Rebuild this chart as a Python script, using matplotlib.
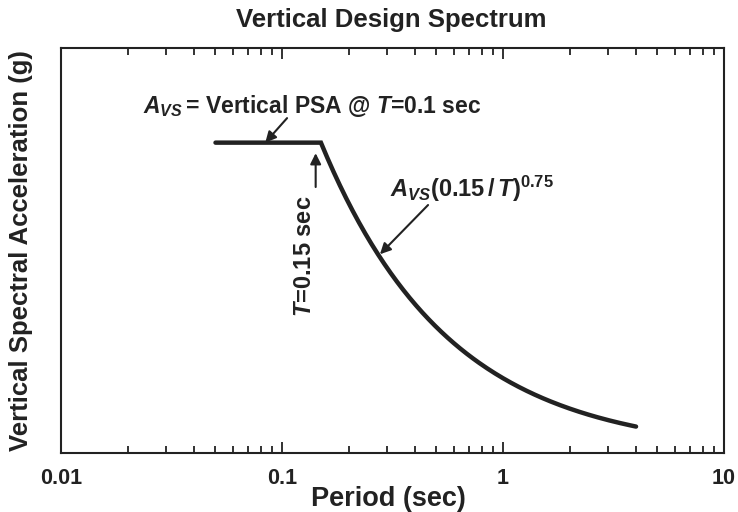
import numpy as np
import matplotlib
matplotlib.use("Agg")
import matplotlib.pyplot as plt

plt.rcParams['font.family'] = ['Liberation Sans', 'DejaVu Sans']
plt.rcParams['font.weight'] = 'bold'
plt.rcParams['mathtext.fontset'] = 'custom'
plt.rcParams['mathtext.rm'] = 'Liberation Sans:bold'
plt.rcParams['mathtext.it'] = 'Liberation Sans:italic:bold'
plt.rcParams['mathtext.bf'] = 'Liberation Sans:bold'

# Data
A_vs = 1.0          # plateau level (relative)
T_start = 0.05      # start of plateau (sec)
T_corner = 0.15     # corner period (sec)
T_end = 4.0         # end of curve (sec)
exponent = 0.75
tick_values = [0.01, 0.1, 1, 10]
tick_labels = ["0.01", "0.1", "1", "10"]

T_flat = np.array([T_start, T_corner])
S_flat = np.array([A_vs, A_vs])
T_dec = np.logspace(np.log10(T_corner), np.log10(T_end), 200)
S_dec = A_vs * (T_corner / T_dec) ** exponent

C = '#222222'
fig = plt.figure(figsize=(7.38, 5.12), dpi=100)
ax = fig.add_axes([0.0827, 0.1152, 0.8983, 0.7911])
ax.plot(np.concatenate([T_flat, T_dec]), np.concatenate([S_flat, S_dec]),
        color=C, lw=3.2, solid_capstyle='round', solid_joinstyle='miter')

ax.set_xscale('log')
ax.set_xlim(0.01, 10)
ax.set_ylim(0, 1.305)
ax.set_yticks([])
ax.set_xticks(tick_values)
ax.set_xticklabels(tick_labels, fontsize=15.5, fontweight='bold')
ax.tick_params(axis='x', which='major', direction='in', length=8, width=1.3,
               top=True, pad=11, colors=C)
ax.tick_params(axis='x', which='minor', direction='in', length=5, width=1.3,
               top=True, colors=C)
for s in ax.spines.values():
    s.set_linewidth(1.5)
    s.set_color(C)

fig.text(0.53, 0.960, "Vertical Design Spectrum", ha='center', va='center',
         fontsize=18.5, fontweight='bold', color=C)
fig.text(0.527, 0.025, "Period (sec)", ha='center', va='center',
         fontsize=19.5, fontweight='bold', color=C)
fig.text(0.028, 0.51, "Vertical Spectral Acceleration (g)", ha='center', va='center',
         rotation=90, fontsize=18.5, fontweight='bold', color=C)

# Annotations
ax.text(0.0235, 1.095, r"$A_{VS}\,$= Vertical PSA @ $T$=0.1 sec", fontsize=16.5,
        fontweight='bold', color=C, va='baseline', ha='left')
ax.annotate("", xy=(0.084, A_vs), xytext=(0.1054, 1.079),
            arrowprops=dict(arrowstyle='-|>', color=C, lw=1.5,
                            mutation_scale=16, shrinkA=0, shrinkB=0))

ax.text(0.143, 0.635, r"$T$=0.15 sec", rotation=90, fontsize=17, fontweight='bold',
        color=C, ha='right', va='center')
ax.annotate("", xy=(0.142, 0.966), xytext=(0.142, 0.857),
            arrowprops=dict(arrowstyle='-|>', color=C, lw=1.5,
                            mutation_scale=16, shrinkA=0, shrinkB=0))

T_pt = 0.2775
ax.text(0.308, 0.824, r"$A_{VS}$(0.15$\,$/$\,T$)$^{0.75}$", fontsize=17, fontweight='bold',
        color=C, va='baseline', ha='left')
ax.annotate("", xy=(T_pt, A_vs * (T_corner / T_pt) ** exponent + 0.01), xytext=(0.458, 0.799),
            arrowprops=dict(arrowstyle='-|>', color=C, lw=1.5,
                            mutation_scale=16, shrinkA=0, shrinkB=0))

fig.savefig("out.png", dpi=100)
